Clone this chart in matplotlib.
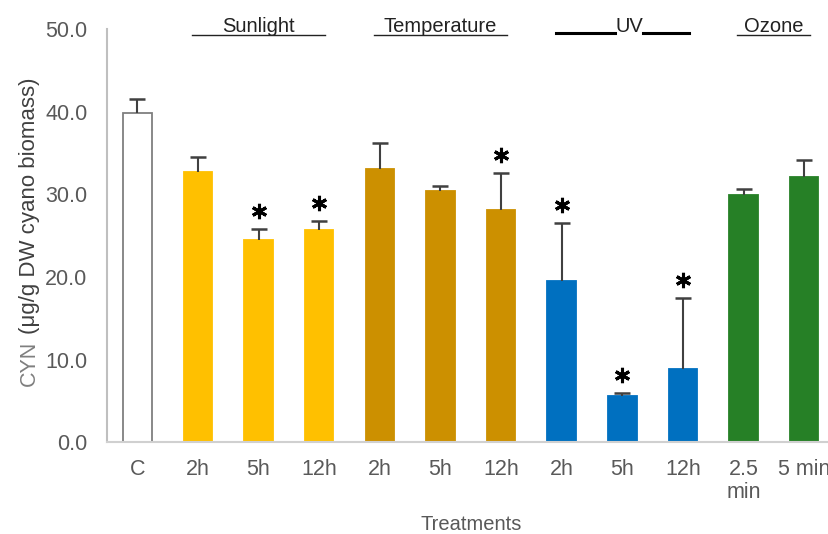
import matplotlib
matplotlib.use('Agg')
import matplotlib.pyplot as plt
import matplotlib.transforms as mtransforms

plt.rcParams['font.family'] = ['Liberation Sans', 'DejaVu Sans']

# Data
labels = ['C', '2h', '5h', '12h', '2h', '5h', '12h', '2h', '5h', '12h', '2.5\nmin', '5 min']
means = [39.8, 32.7, 24.5, 25.7, 33.0, 30.4, 28.1, 19.5, 5.6, 8.9, 29.9, 32.1]
err_top = [41.5, 34.5, 25.8, 26.8, 36.2, 31.0, 32.6, 26.5, 6.0, 17.4, 30.6, 34.1]
significant = [False, False, True, True, False, False, True, True, True, True, False, False]
groups = ['Sunlight', 'Temperature', 'UV', 'Ozone']
group_members = [[1, 2, 3], [4, 5, 6], [7, 8, 9], [10, 11]]

colors = ['white'] + ['#FFC000'] * 3 + ['#CC9000'] * 3 + ['#0070C0'] * 3 + ['#268026'] * 2
edges = ['#7F7F7F'] + colors[1:]
grey = '#595959'

fig = plt.figure(figsize=(8.29, 5.34), dpi=100)
ax = fig.add_axes([0.129, 0.1717, 0.871, 0.7743])

x = list(range(len(means)))
ax.bar(x, means, width=0.47, color=colors, edgecolor=edges, linewidth=1.3, zorder=2)
# plus-only error bars (stem + cap on top, nothing at the bar top)
ax.vlines(x, means, err_top, color='#404040', lw=1.5, zorder=3)
ax.plot(x, err_top, linestyle='none', marker='_', markersize=12, mew=1.8,
        color='#404040', zorder=3)

# significance asterisks, a fixed distance above the error bar
star_tr = mtransforms.offset_copy(ax.transData, fig=fig, x=0, y=18, units='dots')
sx = [i for i, s in enumerate(significant) if s]
sy = [err_top[i] for i in sx]
ax.plot(sx, sy, linestyle='none', marker=(6, 2, 0), markersize=11, mew=2.2,
        color='black', transform=star_tr, clip_on=False, zorder=4)

# group headers with underlines
xtr = ax.get_xaxis_transform()
for name, members in zip(groups, group_members):
    x0, x1 = members[0] - 0.1, members[-1] + 0.1
    xc = (x0 + x1) / 2
    if name == 'UV':
        ax.text(xc + 0.12, 1.005, name, transform=xtr, ha='center', va='center',
                fontsize=14.5, color='#222222', clip_on=False)
        ax.plot([x0, xc - 0.12], [0.99, 0.99], transform=xtr,
                color='black', lw=2.2, clip_on=False)
        ax.plot([xc + 0.34, x1], [0.99, 0.99], transform=xtr,
                color='black', lw=2.2, clip_on=False)
    else:
        ax.text(xc, 1.005, name, transform=xtr, ha='center', va='center',
                fontsize=14.5, color='#222222', clip_on=False)
        ax.plot([x0, x1], [0.986, 0.986], transform=xtr,
                color='#222222', lw=1, clip_on=False)

ax.set_xlim(-0.5, 11.41)
ax.set_ylim(0, 50)
ax.set_yticks([0, 10, 20, 30, 40, 50])
ax.set_yticklabels(['%.1f' % v for v in [0, 10, 20, 30, 40, 50]])
ax.set_xticks(x)
ax.set_xticklabels(labels)
ax.tick_params(axis='both', length=0, labelsize=15.5, colors=grey)
ax.tick_params(axis='y', pad=14)
ax.tick_params(axis='x', pad=12)
for lab in ax.get_xticklabels():
    lab.set_linespacing(1.15)

for s in ['top', 'right']:
    ax.spines[s].set_visible(False)
ax.spines['left'].set_color('#BFBFBF')
ax.spines['bottom'].set_color('#D0D0D0')
ax.spines['left'].set_linewidth(1.5)
ax.spines['bottom'].set_linewidth(1.5)

# x label placed directly so the two-line tick label does not push it down
fig.text(471 / 829, (534 - 524) / 534, 'Treatments', ha='center', va='center',
         fontsize=14.5, color=grey)

# y label: "CYN" lighter, the unit part darker; both share one baseline
fig.text(35 / 829, (534 - 386) / 534, 'CYN', rotation=90, rotation_mode='anchor',
         ha='left', va='baseline', fontsize=15.5, color='#7F7F7F')
fig.text(35 / 829, (534 - 334) / 534, '(μg/g DW cyano biomass)', rotation=90,
         rotation_mode='anchor', ha='left', va='baseline', fontsize=16, color='#404040')

fig.savefig('out.png', dpi=100)
